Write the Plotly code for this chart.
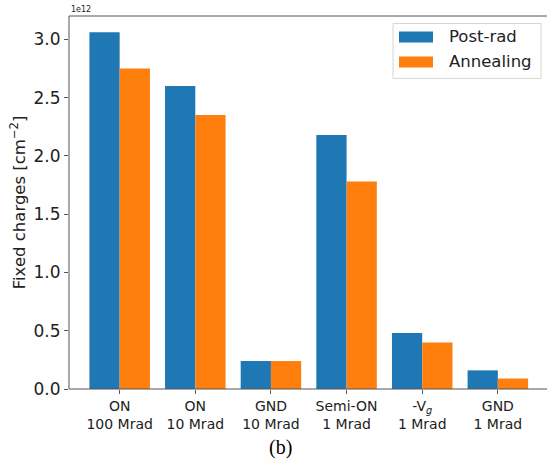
import plotly.graph_objects as go

# Fixed charge density per condition, in units of 1e12 cm^-2
categories = ["ON<br>100 Mrad", "ON<br>10 Mrad", "GND<br>10 Mrad",
              "Semi-ON<br>1 Mrad", "-V<sub><i>g</i></sub><br>1 Mrad", "GND<br>1 Mrad"]
post_rad = [3.06, 2.60, 0.24, 2.18, 0.48, 0.16]
annealing = [2.75, 2.35, 0.24, 1.78, 0.40, 0.09]
series_names = ["Post-rad", "Annealing"]
colors = ["#1f77b4", "#ff7f0e"]
y_ticks = [0.0, 0.5, 1.0, 1.5, 2.0, 2.5, 3.0]

W, H = 547, 465
L, R, T, B = 69, 0, 15.5, 76
pw, ph = W - L - R, H - T - B

def px(x):
    return (x - L) / pw

def py(y):
    return (H - B - y) / ph

FONT = "DejaVu Sans"
TXT = "#222222"
SPINE = "#555555"
xs = list(range(len(categories)))

fig = go.Figure()
for name, vals, c in zip(series_names, [post_rad, annealing], colors):
    fig.add_trace(go.Bar(x=xs, y=vals, name=name, marker=dict(color=c, line=dict(width=0)),
                         showlegend=False))

fig.update_layout(
    width=W, height=H,
    margin=dict(l=L, r=R, t=T, b=B, autoexpand=False),
    paper_bgcolor="white", plot_bgcolor="white",
    barmode="group", bargap=0.2, bargroupgap=0,
    font=dict(family=FONT, color=TXT),
    showlegend=False,
)
fig.update_xaxes(
    range=[-0.67, 5.65], tickvals=xs, ticktext=categories,
    showline=False, ticks="outside", ticklen=4, tickcolor=SPINE,
    showgrid=False, zeroline=False, tickfont=dict(size=14, family=FONT, color=TXT),
)
fig.update_yaxes(
    range=[0, 3.2], tickvals=y_ticks, ticktext=[f"{v:.1f}" for v in y_ticks],
    showline=False, ticks="outside", ticklen=4, tickcolor=SPINE,
    showgrid=False, zeroline=False, tickfont=dict(size=17, family=FONT, color=TXT),
)

# spines: left, bottom and top (the right side runs off the canvas)
for x0, x1, y0, y1 in [(0, 0, 0, 1), (0, 1, 0, 0), (0, 1, 1, 1)]:
    fig.add_shape(type="line", xref="paper", yref="paper", x0=x0, x1=x1, y0=y0, y1=y1,
                  line=dict(color=SPINE, width=1))

# axis label, offset text and caption
fig.add_annotation(xref="paper", yref="paper", x=px(18), y=py(202), textangle=-90,
                   xanchor="center", yanchor="middle",
                   text="Fixed charges [cm<sup>\u22122</sup>]", showarrow=False,
                   font=dict(size=16.5, family=FONT, color=TXT))
fig.add_annotation(xref="paper", yref="paper", x=px(69), y=py(8.5), xanchor="left",
                   yanchor="middle", text="1e12", showarrow=False,
                   font=dict(size=8, family=FONT, color=TXT))
fig.add_annotation(xref="paper", yref="paper", x=px(280), y=py(448),
                   xanchor="center", yanchor="middle", text="(b)", showarrow=False,
                   font=dict(size=20, family="Liberation Serif", color="black"))

# legend frame drawn edge by edge, then the wide colour patches
lx0, lx1, ly0, ly1 = px(393), px(541), py(78), py(23)
for x0, x1, y0, y1 in [(lx0, lx1, ly0, ly0), (lx0, lx1, ly1, ly1),
                       (lx0, lx0, ly0, ly1), (lx1, lx1, ly0, ly1)]:
    fig.add_shape(type="line", xref="paper", yref="paper", x0=x0, x1=x1, y0=y0, y1=y1,
                  line=dict(color="#d6d6d6", width=1))
for i, (name, c) in enumerate(zip(series_names, colors)):
    y0 = 31 + i * 25
    fig.add_shape(type="rect", xref="paper", yref="paper",
                  x0=px(399), x1=px(433), y0=py(y0 + 11), y1=py(y0),
                  line=dict(width=0), fillcolor=c)
    fig.add_annotation(xref="paper", yref="paper", x=px(447), y=py(y0 + 5.5),
                       xanchor="left", yanchor="middle", text=name, showarrow=False,
                       font=dict(size=16.5, family=FONT, color=TXT))

fig.write_html("out.html", config={"displayModeBar": False})
